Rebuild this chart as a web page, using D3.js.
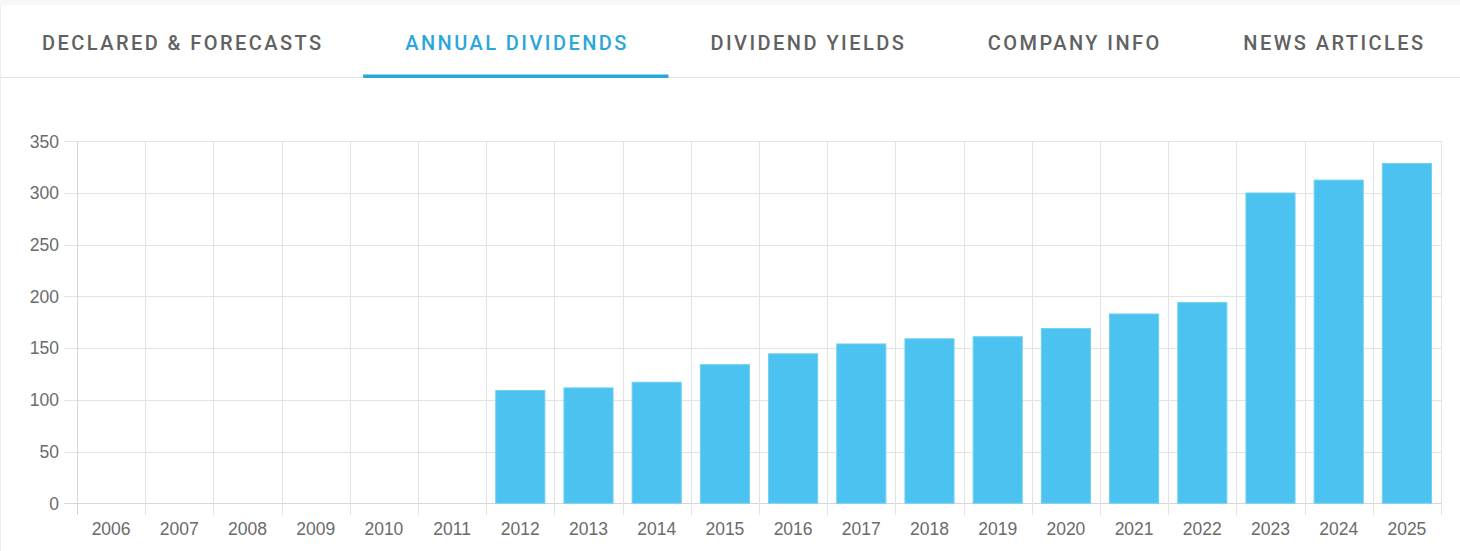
<!DOCTYPE html>
<html>
<head>
<meta charset="utf-8">
<script src="https://cdn.jsdelivr.net/npm/d3@7"></script>
<style>
    body { margin: 0; background: #fff; }
    svg { display: block; }
</style>
</head>
<body>
<div id="chart"></div>
<script>
// tab labels
const tabs = ["DECLARED & FORECASTS", "ANNUAL DIVIDENDS", "DIVIDEND YIELDS", "COMPANY INFO", "NEWS ARTICLES"];
const activeTab = "ANNUAL DIVIDENDS";

// annual dividends per year (no payout before 2012)
const years = ["2006", "2007", "2008", "2009", "2010", "2011", "2012", "2013", "2014", "2015",
    "2016", "2017", "2018", "2019", "2020", "2021", "2022", "2023", "2024", "2025"];
const dividends = [0, 0, 0, 0, 0, 0, 109, 111.5, 117, 134,
    144.5, 154, 159, 161, 169, 183, 194, 300, 312.5, 328.5];
const yTicks = [0, 50, 100, 150, 200, 250, 300, 350];

const data = years.map((y, i) => ({ year: y, value: dividends[i] }));

const width = 1460;
const height = 551;
const plot = { left: 77, right: 1441, top: 141.3, bottom: 503.2 };

const svg = d3.select("#chart").append("svg")
    .attr("width", width)
    .attr("height", height);

// top strip + tab bar
svg.append("rect")
    .attr("x", 0).attr("y", 0)
    .attr("width", width).attr("height", 5)
    .attr("fill", "#f7f7f7");

svg.append("line")
    .attr("x1", 0).attr("x2", width)
    .attr("y1", 77.5).attr("y2", 77.5)
    .attr("stroke", "#e2e2e2");

svg.append("line")
    .attr("x1", 0.5).attr("x2", 0.5)
    .attr("y1", 5).attr("y2", height)
    .attr("stroke", "#eeeeee");

const tabG = svg.append("g");
const tabPad = 42;
const spacing = 2.45;
let tabX = 0;
tabs.forEach(function (t) {
    const txt = tabG.append("text")
        .attr("y", 43)
        .attr("dy", "0.36em")
        .attr("text-anchor", "middle")
        .style("font-family", "Roboto, 'Noto Sans', sans-serif")
        .style("font-weight", "500")
        .style("font-size", "20px")
        .style("letter-spacing", spacing + "px")
        .attr("fill", t === activeTab ? "#2ba6da" : "#616161")
        .text(t);
    const w = txt.node().getComputedTextLength() - spacing;
    const tabW = w + 2 * tabPad;
    txt.attr("x", tabX + tabW / 2 + spacing / 2);
    if (t === activeTab) {
        tabG.append("rect")
            .attr("x", tabX).attr("y", 74.5)
            .attr("width", tabW).attr("height", 3.5)
            .attr("fill", "#2ba6da");
    }
    tabX += tabW;
});

// scales
const x = d3.scaleBand()
    .domain(years)
    .range([plot.left, plot.right])
    .paddingInner(0)
    .paddingOuter(0);

const y = d3.scaleLinear()
    .domain([0, 350])
    .range([plot.bottom, plot.top]);

// horizontal grid + y ticks
const gridColor = "#e3e3e3";
const yAxis = svg.append("g");
yAxis.selectAll("line")
    .data(yTicks)
    .enter().append("line")
    .attr("x1", plot.left - 13)
    .attr("x2", plot.right)
    .attr("y1", d => Math.round(y(d)) + 0.5)
    .attr("y2", d => Math.round(y(d)) + 0.5)
    .attr("stroke", d => d === 0 ? "#d6d6d6" : gridColor);

yAxis.selectAll("text")
    .data(yTicks)
    .enter().append("text")
    .attr("x", plot.left - 18)
    .attr("y", d => y(d))
    .attr("dy", "0.36em")
    .attr("text-anchor", "end")
    .style("font-family", "'Liberation Sans', Arial, sans-serif")
    .style("font-size", "17.5px")
    .attr("fill", "#6b6b6b")
    .text(d => d);

// vertical grid at category boundaries
const bounds = years.map(d => x(d)).concat([plot.right]);
svg.append("g").selectAll("line")
    .data(bounds)
    .enter().append("line")
    .attr("x1", d => Math.round(d) + 0.5)
    .attr("x2", d => Math.round(d) + 0.5)
    .attr("y1", plot.top)
    .attr("y2", plot.bottom + 12)
    .attr("stroke", (d, i) => i === 0 ? "#d6d6d6" : gridColor);

// x labels
svg.append("g").selectAll("text")
    .data(years)
    .enter().append("text")
    .attr("x", d => x(d) + x.bandwidth() / 2)
    .attr("y", 529)
    .attr("dy", "0.36em")
    .attr("text-anchor", "middle")
    .style("font-family", "'Liberation Sans', Arial, sans-serif")
    .style("font-size", "17.5px")
    .attr("fill", "#6b6b6b")
    .text(d => d);

// bars
const barW = x.bandwidth() * 0.72;
svg.append("g").selectAll("rect")
    .data(data.filter(d => d.value > 0))
    .enter().append("rect")
    .attr("x", d => x(d.year) + (x.bandwidth() - barW) / 2)
    .attr("y", d => y(d.value))
    .attr("width", barW)
    .attr("height", d => y(0) - y(d.value))
    .attr("fill", "#4bc2ef")
    .attr("stroke", "#6fd0f3")
    .attr("stroke-width", 1);
</script>
</body>
</html>
